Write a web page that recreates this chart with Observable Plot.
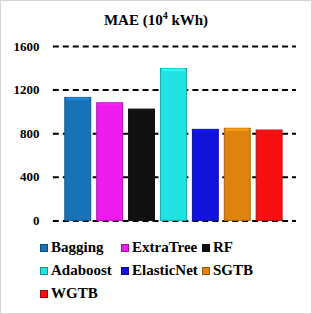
<!DOCTYPE html>
<html><head><meta charset="utf-8">
<script src="https://cdn.jsdelivr.net/npm/d3@7"></script>
<script src="https://cdn.jsdelivr.net/npm/@observablehq/plot@0.6"></script>
<style>
html,body{margin:0;padding:0;background:#fff;}
#wrap{width:312px;height:314px;box-sizing:border-box;border:1px solid #d4d4d4;position:relative;overflow:hidden;font-family:"Liberation Serif",serif;}
#title{position:absolute;left:0;top:0;width:310px;height:34px;text-align:center;font-weight:bold;font-size:15px;line-height:38px;color:#000;font-family:"Liberation Serif",serif;}
#title sup{font-size:10px;vertical-align:6px;line-height:0;}
#chart{position:absolute;left:-1px;top:33px;}
#legend{position:absolute;left:39px;top:238px;width:270px;}
.item{position:absolute;font-weight:bold;font-size:15px;color:#000;white-space:nowrap;display:flex;align-items:center;font-family:"Liberation Serif",serif;}
.sw{width:8px;height:8px;margin-right:3px;box-sizing:border-box;border:1px solid rgba(0,0,0,0.35);}
</style></head>
<body><div id="wrap"><div id="title">MAE (10<sup>4</sup> kWh)</div><div id="chart"></div><div id="legend"></div></div>
<script>
const models = ["Bagging","ExtraTree","RF","Adaboost","ElasticNet","SGTB","WGTB"];
const mae = [1128, 1079, 1021, 1393, 835, 845, 829];
const colors = ["#1872b8","#ee1aee","#111111","#22e2e2","#1212dd","#e2820e","#f81010"];
const yTicks = [0, 400, 800, 1200, 1600];

const data = models.map((m,i)=>({model:m, value:mae[i], color:colors[i]}));

const plot = Plot.plot({
  width: 312, height: 200,
  marginTop: 12, marginBottom: 13, marginLeft: 53, marginRight: 15,
  style: {fontFamily: "Liberation Serif, serif", fontWeight: "bold", fontSize: "13px", color: "#000", background: "transparent"},
  x: {domain: models, paddingInner: 0.195, paddingOuter: 0.39, align: 0.45, axis: null},
  y: {domain: [0, 1600], axis: null},
  marks: [
    Plot.ruleY(yTicks, {stroke: "#000", strokeWidth: 2, strokeDasharray: "6,4"}),
    Plot.barY(data, {x: "model", y: "value", fill: "color", stroke: d => d3.color(d.color).darker(0.8).formatHex(), strokeWidth: 1}),
    Plot.barY(data, {x: "model", y1: d => d.value, y2: d => d.value - 25, fill: d => d3.color(d.color).brighter(0.6).formatHex(), insetLeft: 1.5, insetRight: 1.5, fillOpacity: 0.8}),
    Plot.axisY({ticks: yTicks, tickSize: 0, tickPadding: 14, label: null, tickFormat: d => String(d), fontWeight: "bold", fontSize: 13, fontFamily: "Liberation Serif, serif"})
  ]
});
document.getElementById("chart").appendChild(plot);

const legend = document.getElementById("legend");
const cols = [0, 81, 162];
models.forEach((m,i)=>{
  const el = document.createElement("div");
  el.className = "item";
  el.style.left = cols[i%3] + "px";
  el.style.top = (Math.floor(i/3)*23) + "px";
  el.innerHTML = `<span class="sw" style="background:${colors[i]}"></span>${m}`;
  legend.appendChild(el);
});
</script></body></html>
